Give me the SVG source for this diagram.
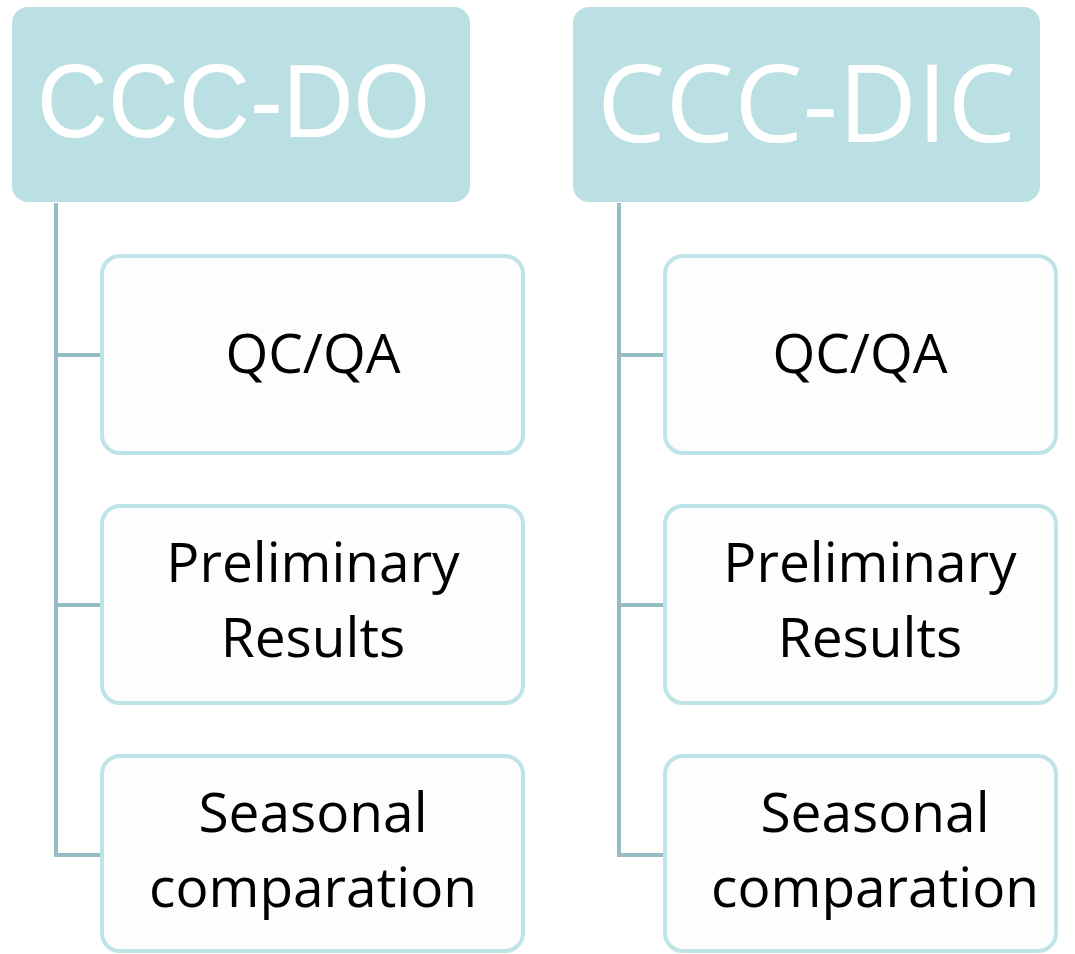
<svg xmlns="http://www.w3.org/2000/svg" width="1075" height="954" viewBox="0 0 1075 954">
<style>
.hdr{fill:#bae0e3;}
.hdr-t{fill:#ffffff;font-family:"Liberation Sans",Arial,sans-serif;}
.child{fill:#fdfdfd;stroke:#bfe4e7;stroke-width:4;}
.ct{fill:#000000;font-family:"Open Sans","Noto Sans",sans-serif;font-size:55px;text-anchor:middle;}
.conn{fill:none;stroke:#95bdc3;stroke-width:4;}
</style>
<rect width="1075" height="954" fill="#ffffff"/>
<g id="connectors">
<path class="conn" d="M56,203 V855 H102 M56,355 H102 M56,605 H102"/>
<path class="conn" d="M619,203 V855 H665 M619,355 H665 M619,605 H665"/>
</g>
<g id="ccc-do">
<rect class="hdr" x="12" y="7" width="458" height="195" rx="16"/>
<text class="hdr-t" x="37" y="137" font-size="104" textLength="393" lengthAdjust="spacingAndGlyphs">CCC-DO</text>
</g>
<g id="ccc-dic">
<rect class="hdr" x="573" y="7" width="467" height="195" rx="16"/>
<text class="hdr-t" x="597" y="142" font-size="108" textLength="419" lengthAdjust="spacingAndGlyphs" style="font-family:'Open Sans','Noto Sans',sans-serif">CCC-DIC</text>
</g>
<g id="do-qcqa">
<rect class="child" x="102" y="256" width="421" height="197" rx="18"/>
<text class="ct" x="313" y="373">QC/QA</text>
</g>
<g id="do-prelim">
<rect class="child" x="102" y="506" width="421" height="197" rx="18"/>
<text class="ct" x="313" y="582">Preliminary</text>
<text class="ct" x="313" y="657">Results</text>
</g>
<g id="do-seasonal">
<rect class="child" x="102" y="756" width="421" height="195" rx="18"/>
<text class="ct" x="313" y="832">Seasonal</text>
<text class="ct" x="313" y="907">comparation</text>
</g>
<g id="dic-qcqa">
<rect class="child" x="665" y="256" width="391" height="197" rx="18"/>
<text class="ct" x="860" y="373">QC/QA</text>
</g>
<g id="dic-prelim">
<rect class="child" x="665" y="506" width="391" height="197" rx="18"/>
<text class="ct" x="870" y="582">Preliminary</text>
<text class="ct" x="870" y="657">Results</text>
</g>
<g id="dic-seasonal">
<rect class="child" x="665" y="756" width="391" height="195" rx="18"/>
<text class="ct" x="875" y="832">Seasonal</text>
<text class="ct" x="875" y="907">comparation</text>
</g>
</svg>
